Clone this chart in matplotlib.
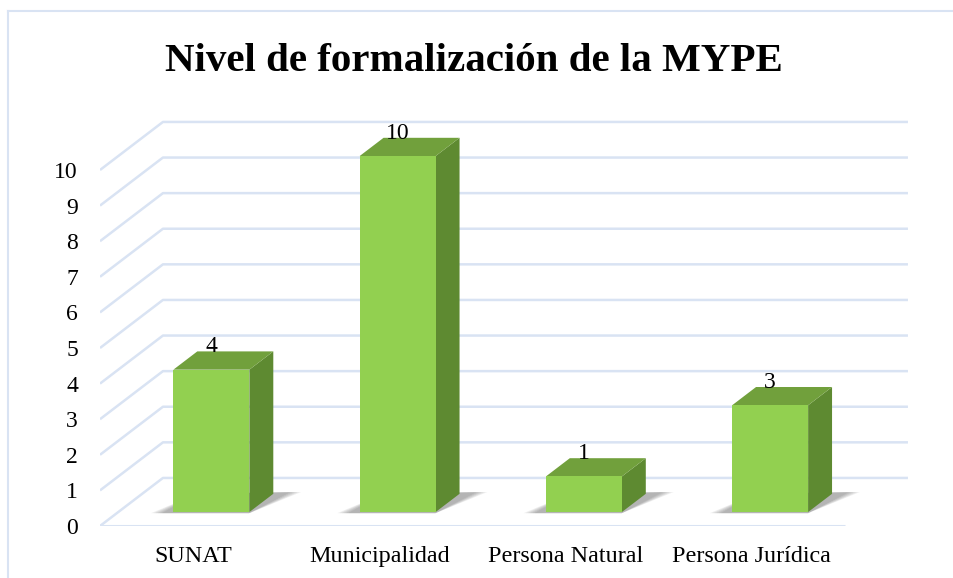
import matplotlib.pyplot as plt
from matplotlib.patches import Polygon
from matplotlib.lines import Line2D

categories = ['SUNAT', 'Municipalidad', 'Persona Natural', 'Persona Jurídica']
values = [4, 10, 1, 3]
yticks = list(range(0, 11))
title = 'Nivel de formalización de la MYPE'

plt.rcParams['font.family'] = ['Liberation Serif', 'DejaVu Serif']

W, H = 954, 578
fig = plt.figure(figsize=(W / 100, H / 100), dpi=100)

# pixel scale of the data units
px_x, px_y = 186.25, 35.6
x0, x1 = -0.5, 3.85
y0, y1 = 0, 11.6
ax = fig.add_axes([100 / W, 52 / H, (x1 - x0) * px_x / W, (y1 - y0) * px_y / H])
ax.set_xlim(x0, x1)
ax.set_ylim(y0, y1)
ax.axis('off')

# oblique depth of the floor, and bar placement in depth
DX, DY = 0.338, 1.35
f0, fd = 0.29, 0.38
bw = 0.408
grid_c = '#d9e3f3'

# walls / gridlines
for v in yticks:
    ax.plot([x0, x0 + DX, 3.5 + DX], [v, v + DY, v + DY], color=grid_c, lw=1.8, zorder=1,
            solid_capstyle='butt')
    ax.text(x0 - 22 / px_x, v, str(v), ha='right', va='center_baseline', fontsize=17)
ax.plot([x0, 3.5], [0, 0], color=grid_c, lw=2.2, zorder=1, solid_capstyle='butt')

for i, (cat, v) in enumerate(zip(categories, values)):
    xl = i - bw / 2 + f0 * DX
    xr = xl + bw
    b = f0 * DY
    bdx, bdy = fd * DX, fd * DY
    # soft shadow on the floor
    for k in range(6):
        e = 0.012 * k
        sh = [(xl - 0.06 - e, b - 0.03), (xr, b - 0.03),
              (xr + bdx + 0.09 + e, b + bdy + 0.05), (xl + bdx, b + bdy)]
        ax.add_patch(Polygon(sh, closed=True, facecolor='#404040', alpha=0.08,
                             edgecolor='none', zorder=2))
    front = [(xl, b), (xr, b), (xr, b + v), (xl, b + v)]
    side = [(xr, b), (xr + bdx, b + bdy), (xr + bdx, b + v + bdy), (xr, b + v)]
    top = [(xl, b + v), (xr, b + v), (xr + bdx, b + v + bdy), (xl + bdx, b + v + bdy)]
    ax.add_patch(Polygon(side, closed=True, facecolor='#5e8a31', edgecolor='none', zorder=3))
    ax.add_patch(Polygon(top, closed=True, facecolor='#71a03c', edgecolor='none', zorder=3))
    ax.add_patch(Polygon(front, closed=True, facecolor='#92d050', edgecolor='none', zorder=3))
    ax.text((xl + xr) / 2, v + 0.88, str(v), ha='center', va='baseline', fontsize=17, zorder=5)
    ax.text(i, -1.01, cat, ha='center', va='baseline', fontsize=17.4, clip_on=False)

fig.text(474 / W, 1 - 71 / H, title, ha='center', va='baseline', fontsize=29.5,
         fontweight='bold')

# chart frame (only the top and left edges are visible)
fig.add_artist(Line2D([8 / W, 8 / W], [0, 1 - 11 / H], color='#d9e3f3', lw=1.5))
fig.add_artist(Line2D([8 / W, 1], [1 - 11 / H, 1 - 11 / H], color='#d9e3f3', lw=1.5))

fig.savefig('out.png', dpi=100)
